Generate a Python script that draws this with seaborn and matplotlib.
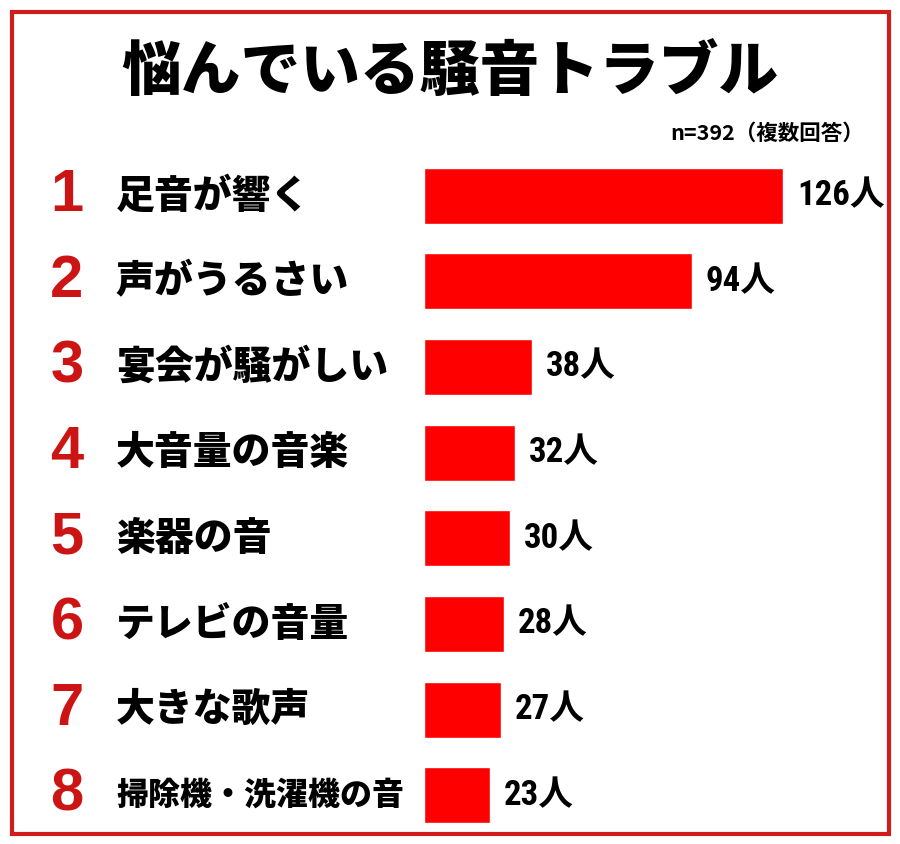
import matplotlib
matplotlib.use("Agg")
import matplotlib.pyplot as plt
import matplotlib.transforms as mtransforms
from matplotlib.patches import Rectangle
import pandas as pd
import seaborn as sns

# data
title = "悩んでいる騒音トラブル"
note = "n=392（複数回答）"
ranks = [1, 2, 3, 4, 5, 6, 7, 8]
items = ["足音が響く", "声がうるさい", "宴会が騒がしい", "大音量の音楽",
         "楽器の音", "テレビの音量", "大きな歌声", "掃除機・洗濯機の音"]
counts = [126, 94, 38, 32, 30, 28, 27, 23]
unit = "人"

sns.set_theme(style="white")
plt.rcParams["font.family"] = ["Noto Sans CJK JP", "DejaVu Sans"]

df = pd.DataFrame({"item": items, "count": counts, "rank": ranks})

fig = plt.figure(figsize=(9, 8.44), dpi=100)
fig.patch.set_facecolor("white")

# axes placed so bars start at x~424px and rows span y~153..838px
ax = fig.add_axes([424 / 900, 1 - 838 / 844, 399 / 900, (838 - 153) / 844])
sns.barplot(data=df, y="item", x="count", orient="h", color="#ff0000",
            saturation=1, width=0.655, ax=ax)
ax.set_xlim(0, 140)
ax.set_ylim(7.5, -0.5)
ax.axis("off")

# value labels (condensed look if a narrow face is around)
for i, v in enumerate(counts):
    ax.annotate(f"{v}{unit}", xy=(v, i), xytext=(10, 0), textcoords="offset points",
                ha="left", va="center", fontsize=25, fontweight="bold", color="black",
                family=["Roboto Condensed", "Open Sans Condensed", "Noto Sans CJK JP"],
                annotation_clip=False)

# rank numbers and item names on the left, in figure x / data y
trans = mtransforms.blended_transform_factory(fig.transFigure, ax.transData)
for i, (r, name) in enumerate(zip(ranks, items)):
    ax.text(67 / 900, i, str(r), transform=trans, ha="center", va="center",
            fontsize=43, fontweight="bold", color="#cc1414",
            family=["Liberation Sans", "DejaVu Sans"], clip_on=False)
    size = 28 if len(name) < 8 else 23
    ax.text(116 / 900, i, name, transform=trans, ha="left", va="center",
            fontsize=size, fontweight="black", color="black", clip_on=False)

fig.text(0.5, 1 - 72 / 844, title, ha="center", va="center",
         fontsize=43, fontweight="black", color="black")
fig.text(864 / 900, 1 - 133 / 844, note, ha="right", va="center",
         fontsize=15.5, fontweight="bold", color="black")

# red frame
fig.patches.append(Rectangle((12 / 900, 1 - 834 / 844), 877 / 900, 822 / 844,
                             transform=fig.transFigure, fill=False,
                             edgecolor="#d01c1c", linewidth=3))

fig.savefig("out.png", dpi=100, facecolor="white")
